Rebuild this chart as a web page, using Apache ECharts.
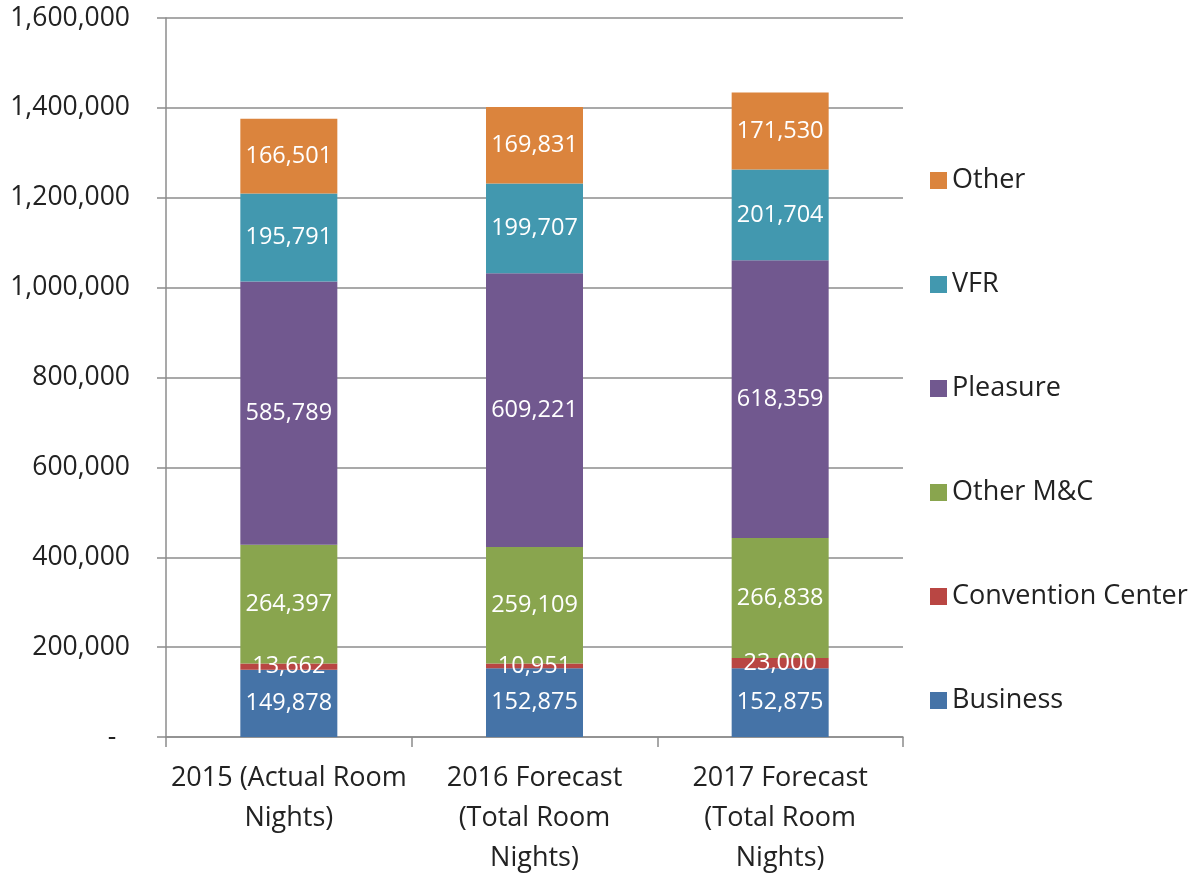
<!DOCTYPE html>
<html>
<head>
<meta charset="utf-8">
<script src="https://cdn.jsdelivr.net/npm/echarts@6/dist/echarts.min.js"></script>
<style>
  html, body { margin: 0; padding: 0; background: #fff; }
  #chart { width: 1198px; height: 874px; }
</style>
</head>
<body>
<div id="chart"></div>
<script>
const categories = ['2015 (Actual Room\nNights)', '2016 Forecast\n(Total Room\nNights)', '2017 Forecast\n(Total Room\nNights)']
const business = [149878, 152875, 152875]
const conventionCenter = [13662, 10951, 23000]
const otherMC = [264397, 259109, 266838]
const pleasure = [585789, 609221, 618359]
const vfr = [195791, 199707, 201704]
const other = [166501, 169831, 171530]
const yTicks = [0, 200000, 400000, 600000, 800000, 1000000, 1200000, 1400000, 1600000]

const font = 'Open Sans'
const fmt = (v) => v.toLocaleString('en-US')

function bar(name, data, color) {
  return {
    name: name,
    type: 'bar',
    stack: 'total',
    barWidth: 97,
    data: data,
    itemStyle: { color: color },
    label: {
      show: true,
      position: 'inside',
      color: '#fff',
      fontFamily: font,
      fontSize: 23.5,
      formatter: (p) => fmt(p.value)
    }
  }
}

const chart = echarts.init(document.getElementById('chart'))
chart.setOption({
  animation: false,
  grid: { left: 166, right: 295, top: 18, bottom: 137, containLabel: false, outerBoundsMode: 'none' },
  legend: {
    orient: 'vertical',
    left: 925,
    top: 162,
    itemWidth: 17,
    itemHeight: 17,
    itemGap: 77,
    icon: 'rect',
    data: ['Other', 'VFR', 'Pleasure', 'Other M&C', 'Convention Center', 'Business'],
    textStyle: { fontFamily: font, fontSize: 27, color: '#222', lineHeight: 26, padding: [0, 0, 0, 0] }
  },
  xAxis: {
    type: 'category',
    data: categories,
    axisLine: { lineStyle: { color: '#8c8c8c', width: 1.5 } },
    axisTick: { show: true, alignWithLabel: false, length: 10, lineStyle: { color: '#8c8c8c', width: 1.5 } },
    axisLabel: { fontFamily: font, fontSize: 27, color: '#222', lineHeight: 40, margin: 21, interval: 0 }
  },
  yAxis: {
    type: 'value',
    min: 0,
    max: 1600000,
    interval: 200000,
    axisLine: { show: true, lineStyle: { color: '#8c8c8c', width: 1.5 } },
    axisTick: { show: true, length: 9, lineStyle: { color: '#8c8c8c', width: 1.5 } },
    splitLine: { lineStyle: { color: '#8c8c8c', width: 1.5 } },
    axisLabel: {
      fontFamily: font,
      fontSize: 26.5,
      color: '#222',
      margin: 36,
      formatter: (v) => (v === yTicks[0] ? '-  ' : fmt(v))
    }
  },
  series: [
    bar('Business', business, '#4573a7'),
    bar('Convention Center', conventionCenter, '#b94643'),
    bar('Other M&C', otherMC, '#89a54e'),
    bar('Pleasure', pleasure, '#71588f'),
    bar('VFR', vfr, '#4298af'),
    bar('Other', other, '#db843d')
  ]
})
</script>
</body>
</html>
